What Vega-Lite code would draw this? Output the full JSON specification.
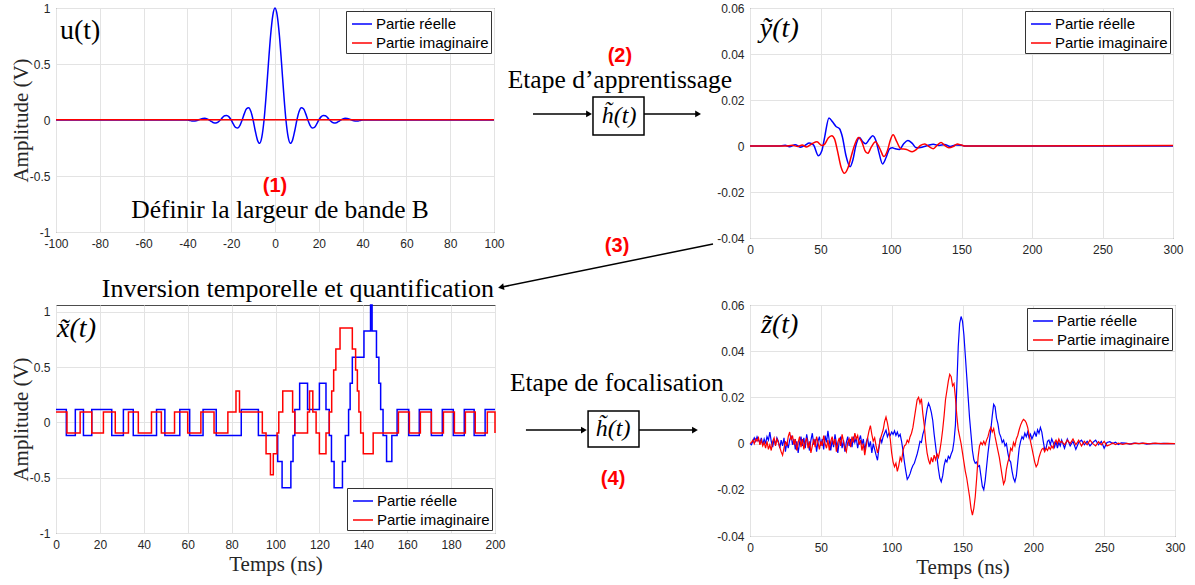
{
"$schema": "https://vega.github.io/schema/vega-lite/v6.json",
"padding": {"left": 9, "top": 1, "right": 5, "bottom": 5},
"background": "white",
"config": {
  "view": {"stroke": "#4d4d4d", "strokeWidth": 1},
  "axis": {"labelFont": "Liberation Sans", "labelFontSize": 12, "labelColor": "#262626", "grid": true, "gridColor": "#e3e3e3", "ticks": false, "domain": false, "labelPadding": 6, "labelFlush": false, "labelOverlap": false, "labelBound": false, "titleFont": "Liberation Serif", "titleFontSize": 21, "titleFontWeight": "normal", "titleColor": "#262626"},
  "axisX": {"titlePadding": 3},
  "axisY": {"titlePadding": -2},
  "legend": {"labelFont": "Liberation Sans", "labelFontSize": 15, "labelColor": "#000000", "symbolType": "stroke", "symbolStrokeWidth": 1.5, "symbolSize": 400, "symbolOffset": 3, "fillColor": "#ffffff", "strokeColor": "#333333", "padding": 2, "rowPadding": -1.5, "labelOffset": 3, "offset": 3, "labelLimit": 0}
},
"datasets": {
  "u": [
    {"t": -100, "v": 0, "p": "Partie réelle"}, {"t": -42, "v": 0, "p": "Partie réelle"}, {"t": -40, "v": 0, "p": "Partie réelle"}, {"t": -39, "v": -0.004, "p": "Partie réelle"}, {"t": -38, "v": -0.008, "p": "Partie réelle"}, {"t": -37, "v": -0.009, "p": "Partie réelle"}, {"t": -36, "v": -0.006, "p": "Partie réelle"}, {"t": -35, "v": 0, "p": "Partie réelle"}, {"t": -34, "v": 0.008, "p": "Partie réelle"}, {"t": -33, "v": 0.014, "p": "Partie réelle"}, {"t": -32, "v": 0.015, "p": "Partie réelle"}, {"t": -31, "v": 0.01, "p": "Partie réelle"}, {"t": -30, "v": 0, "p": "Partie réelle"}, {"t": -29, "v": -0.013, "p": "Partie réelle"}, {"t": -28, "v": -0.024, "p": "Partie réelle"}, {"t": -27, "v": -0.026, "p": "Partie réelle"}, {"t": -26, "v": -0.018, "p": "Partie réelle"}, {"t": -25, "v": 0, "p": "Partie réelle"}, {"t": -24, "v": 0.021, "p": "Partie réelle"}, {"t": -23, "v": 0.038, "p": "Partie réelle"}, {"t": -22, "v": 0.041, "p": "Partie réelle"}, {"t": -21, "v": 0.028, "p": "Partie réelle"}, {"t": -20, "v": 0, "p": "Partie réelle"}, {"t": -19, "v": -0.037, "p": "Partie réelle"}, {"t": -18, "v": -0.066, "p": "Partie réelle"}, {"t": -17, "v": -0.072, "p": "Partie réelle"}, {"t": -16, "v": -0.048, "p": "Partie réelle"}, {"t": -15, "v": 0, "p": "Partie réelle"}, {"t": -14, "v": 0.057, "p": "Partie réelle"}, {"t": -13, "v": 0.1, "p": "Partie réelle"}, {"t": -12, "v": 0.11, "p": "Partie réelle"}, {"t": -11, "v": 0.075, "p": "Partie réelle"}, {"t": -10, "v": 0, "p": "Partie réelle"}, {"t": -9, "v": -0.098, "p": "Partie réelle"}, {"t": -8, "v": -0.18, "p": "Partie réelle"}, {"t": -7, "v": -0.208, "p": "Partie réelle"}, {"t": -6, "v": -0.151, "p": "Partie réelle"}, {"t": -5, "v": 0, "p": "Partie réelle"}, {"t": -4, "v": 0.233, "p": "Partie réelle"}, {"t": -3, "v": 0.504, "p": "Partie réelle"}, {"t": -2, "v": 0.757, "p": "Partie réelle"}, {"t": -1, "v": 0.935, "p": "Partie réelle"}, {"t": 0, "v": 1, "p": "Partie réelle"}, {"t": 1, "v": 0.935, "p": "Partie réelle"}, {"t": 2, "v": 0.757, "p": "Partie réelle"}, {"t": 3, "v": 0.504, "p": "Partie réelle"}, {"t": 4, "v": 0.233, "p": "Partie réelle"}, {"t": 5, "v": 0, "p": "Partie réelle"}, {"t": 6, "v": -0.151, "p": "Partie réelle"}, {"t": 7, "v": -0.208, "p": "Partie réelle"}, {"t": 8, "v": -0.18, "p": "Partie réelle"}, {"t": 9, "v": -0.098, "p": "Partie réelle"}, {"t": 10, "v": 0, "p": "Partie réelle"}, {"t": 11, "v": 0.075, "p": "Partie réelle"}, {"t": 12, "v": 0.11, "p": "Partie réelle"}, {"t": 13, "v": 0.1, "p": "Partie réelle"}, {"t": 14, "v": 0.057, "p": "Partie réelle"}, {"t": 15, "v": 0, "p": "Partie réelle"}, {"t": 16, "v": -0.048, "p": "Partie réelle"}, {"t": 17, "v": -0.072, "p": "Partie réelle"}, {"t": 18, "v": -0.066, "p": "Partie réelle"}, {"t": 19, "v": -0.037, "p": "Partie réelle"}, {"t": 20, "v": 0, "p": "Partie réelle"}, {"t": 21, "v": 0.028, "p": "Partie réelle"}, {"t": 22, "v": 0.041, "p": "Partie réelle"}, {"t": 23, "v": 0.038, "p": "Partie réelle"}, {"t": 24, "v": 0.021, "p": "Partie réelle"}, {"t": 25, "v": 0, "p": "Partie réelle"}, {"t": 26, "v": -0.018, "p": "Partie réelle"}, {"t": 27, "v": -0.026, "p": "Partie réelle"}, {"t": 28, "v": -0.024, "p": "Partie réelle"}, {"t": 29, "v": -0.013, "p": "Partie réelle"}, {"t": 30, "v": 0, "p": "Partie réelle"}, {"t": 31, "v": 0.01, "p": "Partie réelle"}, {"t": 32, "v": 0.015, "p": "Partie réelle"}, {"t": 33, "v": 0.014, "p": "Partie réelle"}, {"t": 34, "v": 0.008, "p": "Partie réelle"}, {"t": 35, "v": 0, "p": "Partie réelle"}, {"t": 36, "v": -0.006, "p": "Partie réelle"}, {"t": 37, "v": -0.009, "p": "Partie réelle"}, {"t": 38, "v": -0.008, "p": "Partie réelle"}, {"t": 39, "v": -0.004, "p": "Partie réelle"}, {"t": 40, "v": 0, "p": "Partie réelle"}, {"t": 42, "v": 0, "p": "Partie réelle"}, {"t": 100, "v": 0, "p": "Partie réelle"},
    {"t": -100, "v": 0.002, "p": "Partie imaginaire"}, {"t": 100, "v": 0.002, "p": "Partie imaginaire"}
  ],
  "yt": [
    {"t": 0, "v": 0, "p": "Partie réelle"}, {"t": 20, "v": 0, "p": "Partie réelle"}, {"t": 25, "v": 0.0003, "p": "Partie réelle"}, {"t": 28, "v": -0.0003, "p": "Partie réelle"}, {"t": 32, "v": 0.0005, "p": "Partie réelle"}, {"t": 36, "v": -0.0005, "p": "Partie réelle"}, {"t": 39, "v": 0.0003, "p": "Partie réelle"}, {"t": 42, "v": 0.0013, "p": "Partie réelle"}, {"t": 45, "v": 0.0005, "p": "Partie réelle"}, {"t": 48.5, "v": -0.0042, "p": "Partie réelle"}, {"t": 51, "v": -0.002, "p": "Partie réelle"}, {"t": 53, "v": 0.004, "p": "Partie réelle"}, {"t": 56, "v": 0.0122, "p": "Partie réelle"}, {"t": 58.5, "v": 0.0105, "p": "Partie réelle"}, {"t": 61, "v": 0.0085, "p": "Partie réelle"}, {"t": 63.5, "v": 0.0075, "p": "Partie réelle"}, {"t": 65.5, "v": 0.004, "p": "Partie réelle"}, {"t": 68, "v": -0.004, "p": "Partie réelle"}, {"t": 71, "v": -0.009, "p": "Partie réelle"}, {"t": 73, "v": -0.006, "p": "Partie réelle"}, {"t": 75, "v": 0, "p": "Partie réelle"}, {"t": 77.7, "v": 0.0037, "p": "Partie réelle"}, {"t": 80, "v": 0.0018, "p": "Partie réelle"}, {"t": 82, "v": 0.001, "p": "Partie réelle"}, {"t": 84.5, "v": 0.0028, "p": "Partie réelle"}, {"t": 87, "v": 0.0045, "p": "Partie réelle"}, {"t": 89.5, "v": 0.002, "p": "Partie réelle"}, {"t": 91.5, "v": -0.003, "p": "Partie réelle"}, {"t": 94, "v": -0.0078, "p": "Partie réelle"}, {"t": 96.5, "v": -0.005, "p": "Partie réelle"}, {"t": 99, "v": -0.0012, "p": "Partie réelle"}, {"t": 101, "v": -0.0008, "p": "Partie réelle"}, {"t": 103, "v": -0.0012, "p": "Partie réelle"}, {"t": 106, "v": -0.0015, "p": "Partie réelle"}, {"t": 109, "v": 0.001, "p": "Partie réelle"}, {"t": 112, "v": 0.0024, "p": "Partie réelle"}, {"t": 115, "v": 0.0012, "p": "Partie réelle"}, {"t": 118, "v": -0.0008, "p": "Partie réelle"}, {"t": 122, "v": -0.0005, "p": "Partie réelle"}, {"t": 126, "v": 0.0002, "p": "Partie réelle"}, {"t": 130, "v": 0.0008, "p": "Partie réelle"}, {"t": 134, "v": 0.0002, "p": "Partie réelle"}, {"t": 138, "v": 0.0006, "p": "Partie réelle"}, {"t": 142, "v": -0.0002, "p": "Partie réelle"}, {"t": 146, "v": 0.0004, "p": "Partie réelle"}, {"t": 150, "v": 0.0003, "p": "Partie réelle"}, {"t": 153, "v": 0, "p": "Partie réelle"}, {"t": 300, "v": 0, "p": "Partie réelle"},
    {"t": 0, "v": 0, "p": "Partie imaginaire"}, {"t": 25, "v": 0, "p": "Partie imaginaire"}, {"t": 30, "v": 0.0003, "p": "Partie imaginaire"}, {"t": 34, "v": -0.0002, "p": "Partie imaginaire"}, {"t": 37, "v": 0.0004, "p": "Partie imaginaire"}, {"t": 40, "v": -0.0004, "p": "Partie imaginaire"}, {"t": 44, "v": 0.001, "p": "Partie imaginaire"}, {"t": 47.5, "v": 0.0018, "p": "Partie imaginaire"}, {"t": 51, "v": 0.0002, "p": "Partie imaginaire"}, {"t": 53, "v": 0.0008, "p": "Partie imaginaire"}, {"t": 55.5, "v": 0.0035, "p": "Partie imaginaire"}, {"t": 58, "v": 0.0045, "p": "Partie imaginaire"}, {"t": 60, "v": 0.003, "p": "Partie imaginaire"}, {"t": 62, "v": -0.002, "p": "Partie imaginaire"}, {"t": 64.5, "v": -0.009, "p": "Partie imaginaire"}, {"t": 67, "v": -0.0119, "p": "Partie imaginaire"}, {"t": 69.5, "v": -0.0095, "p": "Partie imaginaire"}, {"t": 72, "v": -0.004, "p": "Partie imaginaire"}, {"t": 74.5, "v": 0.001, "p": "Partie imaginaire"}, {"t": 77, "v": 0.0037, "p": "Partie imaginaire"}, {"t": 79.5, "v": 0.0015, "p": "Partie imaginaire"}, {"t": 81.5, "v": -0.002, "p": "Partie imaginaire"}, {"t": 83.5, "v": -0.0032, "p": "Partie imaginaire"}, {"t": 86, "v": -0.0005, "p": "Partie imaginaire"}, {"t": 89, "v": 0.0019, "p": "Partie imaginaire"}, {"t": 92, "v": -0.001, "p": "Partie imaginaire"}, {"t": 95, "v": -0.0046, "p": "Partie imaginaire"}, {"t": 97.5, "v": -0.002, "p": "Partie imaginaire"}, {"t": 99.5, "v": 0.0025, "p": "Partie imaginaire"}, {"t": 101.5, "v": 0.0049, "p": "Partie imaginaire"}, {"t": 104, "v": 0.002, "p": "Partie imaginaire"}, {"t": 107, "v": -0.0012, "p": "Partie imaginaire"}, {"t": 111, "v": -0.0015, "p": "Partie imaginaire"}, {"t": 115, "v": -0.0025, "p": "Partie imaginaire"}, {"t": 118, "v": -0.0015, "p": "Partie imaginaire"}, {"t": 121, "v": 0.0003, "p": "Partie imaginaire"}, {"t": 124, "v": 0.0009, "p": "Partie imaginaire"}, {"t": 127, "v": -0.0003, "p": "Partie imaginaire"}, {"t": 130, "v": -0.0012, "p": "Partie imaginaire"}, {"t": 133, "v": 0.0005, "p": "Partie imaginaire"}, {"t": 135.5, "v": 0.0015, "p": "Partie imaginaire"}, {"t": 138, "v": 0.0003, "p": "Partie imaginaire"}, {"t": 141, "v": -0.0008, "p": "Partie imaginaire"}, {"t": 144, "v": -0.0003, "p": "Partie imaginaire"}, {"t": 147, "v": 0.0009, "p": "Partie imaginaire"}, {"t": 150, "v": 0.0004, "p": "Partie imaginaire"}, {"t": 153, "v": 0, "p": "Partie imaginaire"}, {"t": 300, "v": 0.0002, "p": "Partie imaginaire"}
  ],
  "xt": [
    {"t": 0, "v": 0.118, "p": "Partie réelle"}, {"t": 4.7, "v": -0.118, "p": "Partie réelle"}, {"t": 8.8, "v": 0.118, "p": "Partie réelle"}, {"t": 12.5, "v": -0.118, "p": "Partie réelle"}, {"t": 16.3, "v": 0.118, "p": "Partie réelle"}, {"t": 25.4, "v": -0.118, "p": "Partie réelle"}, {"t": 30.7, "v": 0.118, "p": "Partie réelle"}, {"t": 35.2, "v": -0.118, "p": "Partie réelle"}, {"t": 45.8, "v": 0.118, "p": "Partie réelle"}, {"t": 49.6, "v": -0.118, "p": "Partie réelle"}, {"t": 56.4, "v": 0.118, "p": "Partie réelle"}, {"t": 60.9, "v": -0.118, "p": "Partie réelle"}, {"t": 67, "v": 0.118, "p": "Partie réelle"}, {"t": 73, "v": -0.118, "p": "Partie réelle"}, {"t": 84.4, "v": 0.118, "p": "Partie réelle"}, {"t": 92.2, "v": -0.118, "p": "Partie réelle"}, {"t": 101, "v": -0.354, "p": "Partie réelle"}, {"t": 103, "v": -0.59, "p": "Partie réelle"}, {"t": 107, "v": -0.354, "p": "Partie réelle"}, {"t": 108, "v": -0.118, "p": "Partie réelle"}, {"t": 108.8, "v": 0.118, "p": "Partie réelle"}, {"t": 111, "v": 0.354, "p": "Partie réelle"}, {"t": 114.6, "v": 0.118, "p": "Partie réelle"}, {"t": 120, "v": 0.354, "p": "Partie réelle"}, {"t": 123, "v": 0.118, "p": "Partie réelle"}, {"t": 124.5, "v": -0.118, "p": "Partie réelle"}, {"t": 125.5, "v": -0.354, "p": "Partie réelle"}, {"t": 126.7, "v": -0.59, "p": "Partie réelle"}, {"t": 130.5, "v": -0.354, "p": "Partie réelle"}, {"t": 131.8, "v": -0.118, "p": "Partie réelle"}, {"t": 133.3, "v": 0.118, "p": "Partie réelle"}, {"t": 134, "v": 0.354, "p": "Partie réelle"}, {"t": 135, "v": 0.59, "p": "Partie réelle"}, {"t": 140.3, "v": 0.826, "p": "Partie réelle"}, {"t": 143.3, "v": 1.062, "p": "Partie réelle"}, {"t": 144, "v": 0.826, "p": "Partie réelle"}, {"t": 146, "v": 0.59, "p": "Partie réelle"}, {"t": 147.1, "v": 0.354, "p": "Partie réelle"}, {"t": 147.9, "v": 0.118, "p": "Partie réelle"}, {"t": 149, "v": -0.118, "p": "Partie réelle"}, {"t": 150.6, "v": -0.354, "p": "Partie réelle"}, {"t": 153, "v": -0.118, "p": "Partie réelle"}, {"t": 155.4, "v": 0.118, "p": "Partie réelle"}, {"t": 160.7, "v": -0.118, "p": "Partie réelle"}, {"t": 165.5, "v": 0.118, "p": "Partie réelle"}, {"t": 171, "v": -0.118, "p": "Partie réelle"}, {"t": 176, "v": 0.118, "p": "Partie réelle"}, {"t": 181, "v": -0.118, "p": "Partie réelle"}, {"t": 186, "v": 0.118, "p": "Partie réelle"}, {"t": 190.5, "v": -0.118, "p": "Partie réelle"}, {"t": 195.5, "v": 0.118, "p": "Partie réelle"}, {"t": 200, "v": 0.118, "p": "Partie réelle"},
    {"t": 0, "v": 0.095, "p": "Partie imaginaire"}, {"t": 5, "v": -0.095, "p": "Partie imaginaire"}, {"t": 11, "v": 0.095, "p": "Partie imaginaire"}, {"t": 16.3, "v": -0.095, "p": "Partie imaginaire"}, {"t": 21.6, "v": 0.095, "p": "Partie imaginaire"}, {"t": 27, "v": -0.095, "p": "Partie imaginaire"}, {"t": 33, "v": 0.095, "p": "Partie imaginaire"}, {"t": 37.5, "v": -0.095, "p": "Partie imaginaire"}, {"t": 43.5, "v": 0.095, "p": "Partie imaginaire"}, {"t": 48, "v": -0.095, "p": "Partie imaginaire"}, {"t": 54, "v": 0.095, "p": "Partie imaginaire"}, {"t": 60, "v": -0.095, "p": "Partie imaginaire"}, {"t": 66, "v": 0.095, "p": "Partie imaginaire"}, {"t": 72, "v": -0.095, "p": "Partie imaginaire"}, {"t": 78.3, "v": 0.095, "p": "Partie imaginaire"}, {"t": 82, "v": 0.284, "p": "Partie imaginaire"}, {"t": 83.6, "v": 0.095, "p": "Partie imaginaire"}, {"t": 94, "v": -0.095, "p": "Partie imaginaire"}, {"t": 95.7, "v": -0.284, "p": "Partie imaginaire"}, {"t": 97.7, "v": -0.474, "p": "Partie imaginaire"}, {"t": 99, "v": -0.284, "p": "Partie imaginaire"}, {"t": 100.7, "v": -0.095, "p": "Partie imaginaire"}, {"t": 101.5, "v": 0.095, "p": "Partie imaginaire"}, {"t": 103.3, "v": 0.284, "p": "Partie imaginaire"}, {"t": 107.8, "v": 0.095, "p": "Partie imaginaire"}, {"t": 108.8, "v": -0.095, "p": "Partie imaginaire"}, {"t": 114.6, "v": 0.095, "p": "Partie imaginaire"}, {"t": 115.5, "v": 0.284, "p": "Partie imaginaire"}, {"t": 117, "v": 0.095, "p": "Partie imaginaire"}, {"t": 118.5, "v": -0.095, "p": "Partie imaginaire"}, {"t": 120, "v": -0.284, "p": "Partie imaginaire"}, {"t": 123, "v": -0.095, "p": "Partie imaginaire"}, {"t": 124.5, "v": 0.095, "p": "Partie imaginaire"}, {"t": 125.6, "v": 0.284, "p": "Partie imaginaire"}, {"t": 126.5, "v": 0.474, "p": "Partie imaginaire"}, {"t": 127.5, "v": 0.663, "p": "Partie imaginaire"}, {"t": 129.4, "v": 0.853, "p": "Partie imaginaire"}, {"t": 135, "v": 0.663, "p": "Partie imaginaire"}, {"t": 136.5, "v": 0.474, "p": "Partie imaginaire"}, {"t": 137.3, "v": 0.284, "p": "Partie imaginaire"}, {"t": 138, "v": 0.095, "p": "Partie imaginaire"}, {"t": 138.8, "v": -0.095, "p": "Partie imaginaire"}, {"t": 140, "v": -0.284, "p": "Partie imaginaire"}, {"t": 144.5, "v": -0.095, "p": "Partie imaginaire"}, {"t": 156, "v": 0.095, "p": "Partie imaginaire"}, {"t": 161, "v": -0.095, "p": "Partie imaginaire"}, {"t": 166, "v": 0.095, "p": "Partie imaginaire"}, {"t": 171, "v": -0.095, "p": "Partie imaginaire"}, {"t": 176.5, "v": 0.095, "p": "Partie imaginaire"}, {"t": 181.5, "v": -0.095, "p": "Partie imaginaire"}, {"t": 186.5, "v": 0.095, "p": "Partie imaginaire"}, {"t": 191, "v": -0.095, "p": "Partie imaginaire"}, {"t": 196.5, "v": 0.095, "p": "Partie imaginaire"}, {"t": 200, "v": -0.095, "p": "Partie imaginaire"}
  ],
  "zb": [
    [0,0],[1,-0.0005],[2,0.001],[3,0.0025],[4,0.001],[5,0.003],[6,0.0015],[7,0.0005],[8,0.0025],[9,-0.0005],[10,0.002],[11,0],[12,0.003],[13,0.0015],[14,0.005],[15,0.001],[16,-0.0015],[17,0.002],[18,-0.0005],[19,0.0025],[20,0.001],[21,-0.002],[22,0.0015],[23,-0.001],[24,0.0025],[25,-0.0035],[26,0.0005],[27,-0.002],[28,0.0015],[29,0.0035],[30,-0.0005],[31,0.002],[32,-0.0025],[33,0.001],[34,-0.004],[35,0.0005],[36,0.003],[37,-0.001],[38,0.0025],[39,-0.002],[40,0.004],[41,0.0005],[42,-0.003],[43,0.0015],[44,0.0045],[45,-0.0005],[46,0.002],[47,-0.0035],[48,0.001],[49,0.003],[50,-0.001],[51,0.002],[52,-0.0025],[53,0.0035],[54,0.0005],[55,0.0055],[56,0.001],[57,-0.003],[58,0.0015],[59,-0.0015],[60,0.004],[61,0],[62,-0.004],[63,0.001],[64,0.003],[65,-0.002],[66,0.0015],[67,-0.0035],[68,0.0005],[69,0.003],[70,-0.001],[71,0.002],[72,-0.0015],[73,0.003],[74,0.0005],[75,0.0025],[76,-0.002],[77,0.0015],[78,0.0035],[79,-0.0005],[80,0.002],[81,-0.003],[82,0.0005],[83,0.0025],[84,-0.0015],[85,0.001],[86,-0.004],[87,0],[88,-0.0025],[89,-0.005],[90,-0.0072],[91,-0.002],[92,0.0025],[93,0.0005],[94,0.003],[95,0.0045],[96,0.0058],[97,0.003],[98,0.0045],[99,0.0035],[100,0.005],
    [101,0.004],[102,0.0055],[103,0.0035],[104,0.005],[105,0.003],[106,0.004],[107,0.001],[108,-0.003],[109,-0.008],[110,-0.012],[111,-0.0155],[112,-0.0145],[113,-0.013],[114,-0.011],[115,-0.0095],[116,-0.0085],[117,-0.0065],[118,-0.0045],[119,-0.002],[120,0.001],[121,0.0005],[122,0.004],[123,0.006],[124,0.011],[125,0.015],[126,0.0175],[127,0.016],[128,0.0135],[129,0.01],[130,0.004],[131,-0.001],[132,-0.006],[133,-0.011],[134,-0.015],[135,-0.0165],[136,-0.014],[137,-0.0095],[138,-0.007],[139,-0.008],[140,-0.0055],[141,-0.0065],[142,-0.0045],[143,-0.003],[144,0.001],[145,0.008],[146,0.025],[147,0.042],[148,0.052],[149,0.055],[150,0.053],[151,0.047],[152,0.038],[153,0.029],[154,0.02],[155,0.011],[156,0.004],[157,-0.003],[158,-0.007],[159,-0.0085],[160,-0.008],[161,-0.01],[162,-0.0095],[163,-0.014],[164,-0.0185],[165,-0.02],[166,-0.016],[167,-0.01],[168,-0.004],[169,0.001],[170,0.006],[171,0.012],[172,0.017],[173,0.016],[174,0.011],[175,0.0085],[176,0.0045],[177,0.003],[178,0.0005],[179,0.0015],[180,-0.001],[181,0],[182,-0.004],[183,-0.007],[184,-0.008],[185,-0.012],[186,-0.015],[187,-0.0165],[188,-0.014],[189,-0.008],[190,-0.002],[191,0.001],[192,0.003],[193,0.002],[194,0.0045],[195,0.003],[196,0.005],[197,0.0025],[198,0.004],[199,0.002],[200,0.0035],[201,0.005],[202,0.003],[203,0.006],[204,0.0045],[205,0.007],[206,0.005],[207,0.001],[208,-0.0025],[209,-0.002],[210,0.001],[211,0.0015],[212,-0.0005],[213,0.002],[214,0.0005],[215,-0.0015],[216,0.001],[217,-0.002],[218,0.0005],[219,-0.001],[220,0.0015],[222,-0.002],[224,0.002],[226,-0.001],[228,0.001],[230,-0.0025],[232,0.0005],[234,0.0015],[236,-0.0005],[238,0.001],[240,-0.001],[242,0.0005],[244,0.0015],[246,-0.0005],[248,0.001],[250,-0.002],[252,0.0005],[254,0.0008],[256,0],[258,0.0006],[260,-0.0004],[262,0.0003],[265,0.0002],[268,-0.0002],[271,0.0002],[274,0],[277,0.0002],[280,-0.0002],[284,0.0001],[288,0],[292,0.0001],[296,0],[300,0]
  ],
  "zr": [
    [0,0],[1,0.0005],[2,0.0015],[3,0],[4,0.002],[5,0.001],[6,0.0025],[7,-0.0005],[8,0.0015],[9,-0.001],[10,0.0005],[11,-0.002],[12,0.001],[13,-0.0025],[14,-0.0005],[15,-0.003],[16,0.001],[17,0.0025],[18,-0.001],[19,0.002],[20,0.0005],[21,-0.0015],[22,-0.0035],[23,-0.005],[24,-0.002],[25,0.001],[26,-0.001],[27,0.003],[28,0.005],[29,0.0015],[30,0.0035],[31,-0.0005],[32,0.002],[33,-0.003],[34,0.0005],[35,0.003],[36,-0.0015],[37,0.002],[38,-0.0025],[39,0.0005],[40,0.0025],[41,-0.002],[42,0.001],[43,-0.004],[44,-0.001],[45,0.002],[46,-0.0015],[47,0.003],[48,0.0005],[49,-0.0025],[50,0.001],[51,-0.001],[52,0.0035],[53,0],[54,-0.002],[55,0.0015],[56,-0.003],[57,0.001],[58,0.003],[59,-0.0005],[60,0.002],[61,-0.0035],[62,0.0005],[63,0.0025],[64,-0.001],[65,0.004],[66,0.001],[67,-0.002],[68,-0.0035],[69,0.0005],[70,0.002],[71,-0.0015],[72,0.003],[73,0.0005],[74,0.0045],[75,0.002],[76,0.0035],[77,-0.0005],[78,0.0015],[79,-0.003],[80,0],[81,-0.005],[82,-0.001],[83,0.0025],[84,0.0055],[85,0.0078],[86,0.004],[87,0.001],[88,0.0025],[89,-0.001],[90,-0.004],[91,-0.0015],[92,0.002],[93,0.004],[94,0.006],[95,0.0095],[96,0.0115],[97,0.009],[98,0.0055],[99,0.002],[100,-0.004],
    [101,-0.008],[102,-0.01],[103,-0.0085],[104,-0.012],[105,-0.0095],[106,-0.006],[107,-0.0075],[108,-0.003],[109,-0.001],[110,-0.0005],[111,0.0015],[112,0.0005],[113,0.003],[114,0.0045],[115,0.007],[116,0.011],[117,0.015],[118,0.019],[119,0.02],[120,0.0175],[121,0.0195],[122,0.013],[123,0.008],[124,0.001],[125,-0.004],[126,-0.007],[127,-0.009],[128,-0.006],[129,-0.008],[130,-0.005],[131,-0.007],[132,-0.0045],[133,-0.006],[134,-0.003],[135,0.001],[136,0.006],[137,0.012],[138,0.019],[139,0.023],[140,0.027],[141,0.03],[142,0.029],[143,0.025],[144,0.026],[145,0.02],[146,0.012],[147,0.006],[148,0.003],[149,0],[150,-0.004],[151,-0.008],[152,-0.012],[153,-0.015],[154,-0.019],[155,-0.023],[156,-0.028],[157,-0.031],[158,-0.028],[159,-0.023],[160,-0.015],[161,-0.006],[162,-0.001],[163,0.0005],[164,-0.0005],[165,0.001],[166,-0.0005],[167,0.0015],[168,0.003],[169,0.0055],[170,0.007],[171,0.005],[172,0.0065],[173,0.003],[174,0],[175,-0.003],[176,-0.006],[177,-0.01],[178,-0.014],[179,-0.0175],[180,-0.016],[181,-0.011],[182,-0.008],[183,-0.006],[184,-0.002],[185,-0.003],[186,0.0005],[187,-0.001],[188,0.002],[189,0.0035],[190,0.006],[191,0.008],[192,0.0095],[193,0.0105],[194,0.01],[195,0.009],[196,0.007],[197,0.004],[198,0.001],[199,-0.002],[200,-0.005],[201,-0.008],[202,-0.01],[203,-0.009],[204,-0.006],[205,-0.004],[206,-0.0025],[207,-0.002],[208,-0.0035],[209,-0.002],[210,-0.003],[211,-0.0015],[212,-0.0025],[213,-0.001],[214,-0.002],[215,0.0005],[216,0.0015],[217,0],[218,0.002],[219,0.0005],[220,0.001],[222,-0.0005],[224,0.0015],[226,0],[228,0.002],[230,-0.0005],[232,0.0015],[234,-0.001],[236,0.001],[238,-0.0005],[240,0.0015],[242,0],[244,-0.001],[246,0.0008],[248,-0.0005],[250,0.001],[252,-0.001],[254,-0.0005],[256,0.0003],[258,-0.0004],[260,0.0002],[263,-0.0003],[266,0.0001],[269,-0.0002],[272,0.0002],[275,0],[278,0.0002],[282,-0.0001],[286,0.0002],[290,0],[295,0.0001],[300,0]
  ]
},
"columns": 2,
"spacing": {"row": 67, "column": 255},
"bounds": "flush",
"resolve": {"scale": {"color": "independent"}, "legend": {"color": "independent"}},
"concat": [
      {
        "width": 438, "height": 224,
        "encoding": {
          "x": {"field": "t", "type": "quantitative", "scale": {"domain": [-100, 100], "nice": false, "zero": false}, "axis": {"values": [-100, -80, -60, -40, -20, 0, 20, 40, 60, 80, 100], "title": null, "labelExpr": "datum.value + ''"}},
          "y": {"field": "v", "type": "quantitative", "scale": {"domain": [-1, 1], "nice": false, "zero": false}, "axis": {"values": [-1, -0.5, 0, 0.5, 1], "title": "Amplitude (V)", "labelExpr": "datum.value + ''"}}
        },
        "layer": [
          {"data": {"name": "u"}, "mark": {"type": "line", "strokeWidth": 1.5, "interpolate": "monotone"},
           "encoding": {"color": {"field": "p", "type": "nominal", "scale": {"domain": ["Partie réelle", "Partie imaginaire"], "range": ["#0000ff", "#ff0000"]}, "legend": {"orient": "top-right", "title": null}}}},
          {"data": {"values": [{"t": -98.2, "v": 0.795, "label": "u(t)"}]}, "mark": {"type": "text", "font": "Liberation Serif", "fontSize": 28, "align": "left", "baseline": "middle", "color": "#000000"}, "encoding": {"text": {"field": "label"}}},
          {"data": {"values": [{"t": 2.3, "v": -0.8, "label": "Définir la largeur de bande B"}, {"t": 157.5, "v": 0.36, "label": "Etape d’apprentissage"}]}, "mark": {"type": "text", "font": "Liberation Serif", "fontSize": 25.5, "align": "center", "baseline": "middle", "color": "#000000"}, "encoding": {"text": {"field": "label"}}},
          {"data": {"values": [{"t": 0, "v": -0.59, "label": "(1)"}, {"t": 157.5, "v": 0.57, "label": "(2)"}, {"t": 156.2, "v": -1.125, "label": "(3)"}]}, "mark": {"type": "text", "font": "Liberation Sans", "fontSize": 20, "fontWeight": "bold", "align": "center", "baseline": "middle", "color": "#ff0000"}, "encoding": {"text": {"field": "label"}}},
          {"data": {"values": [{"t": 117.8, "v": 0.054, "t2": 143.8, "v2": 0.054}, {"t": 168.5, "v": 0.054, "t2": 193.2, "v2": 0.054}, {"t": 200.0, "v": -1.107, "t2": 103.2, "v2": -1.493}]}, "mark": {"type": "rule", "color": "#000000", "strokeWidth": 1.5}, "encoding": {"x2": {"field": "t2"}, "y2": {"field": "v2"}}},
          {"data": {"values": [{"t": 145.2, "t2": 168.5, "v": 0.205, "v2": -0.134}]}, "mark": {"type": "rect", "fill": "#ffffff", "stroke": "#000000", "strokeWidth": 1.5}, "encoding": {"x2": {"field": "t2"}, "y2": {"field": "v2"}}},
          {"data": {"values": [{"t": 157.1, "v": 0.036, "label": "h̃(t)"}]}, "mark": {"type": "text", "font": "Liberation Serif", "fontStyle": "italic", "fontSize": 24, "align": "center", "baseline": "middle", "color": "#000000"}, "encoding": {"text": {"field": "label"}}},
          {"data": {"values": [{"t": 143.4, "v": 0.054}, {"t": 193.2, "v": 0.054}]}, "mark": {"type": "point", "shape": "triangle-right", "filled": true, "size": 45, "color": "#000000", "opacity": 1}},
          {"data": {"values": [{"t": 103.2, "v": -1.493}]}, "mark": {"type": "point", "shape": "triangle-right", "filled": true, "size": 45, "angle": 168.5, "color": "#000000", "opacity": 1}}
        ]
      },
      {
        "width": 423, "height": 230,
        "encoding": {
          "x": {"field": "t", "type": "quantitative", "scale": {"domain": [0, 300], "nice": false, "zero": false}, "axis": {"values": [0, 50, 100, 150, 200, 250, 300], "title": null, "labelExpr": "datum.value + ''"}},
          "y": {"field": "v", "type": "quantitative", "scale": {"domain": [-0.04, 0.06], "nice": false, "zero": false}, "axis": {"values": [-0.04, -0.02, 0, 0.02, 0.04, 0.06], "title": null, "labelExpr": "datum.value + ''"}}
        },
        "layer": [
          {"data": {"name": "yt"}, "mark": {"type": "line", "strokeWidth": 1.5, "interpolate": "monotone"},
           "encoding": {"color": {"field": "p", "type": "nominal", "scale": {"domain": ["Partie réelle", "Partie imaginaire"], "range": ["#0000ff", "#ff0000"]}, "legend": {"orient": "top-right", "title": null}}}},
          {"data": {"values": [{"t": 7, "v": 0.051, "label": "ỹ(t)"}]}, "mark": {"type": "text", "font": "Liberation Serif", "fontStyle": "italic", "fontSize": 28, "align": "left", "baseline": "middle", "color": "#000000"}, "encoding": {"text": {"field": "label"}}}
        ]
      },
      {
        "width": 439, "height": 228,
        "encoding": {
          "x": {"field": "t", "type": "quantitative", "scale": {"domain": [0, 200], "nice": false, "zero": false}, "axis": {"values": [0, 20, 40, 60, 80, 100, 120, 140, 160, 180, 200], "title": "Temps (ns)", "labelExpr": "datum.value + ''"}},
          "y": {"field": "v", "type": "quantitative", "scale": {"domain": [-1, 1.062], "nice": false, "zero": false}, "axis": {"values": [-1, -0.5, 0, 0.5, 1], "title": "Amplitude (V)", "labelExpr": "datum.value + ''"}}
        },
        "layer": [
          {"data": {"name": "xt"}, "mark": {"type": "line", "strokeWidth": 1.5, "interpolate": "step-after"},
           "encoding": {"color": {"field": "p", "type": "nominal", "scale": {"domain": ["Partie réelle", "Partie imaginaire"], "range": ["#0000ff", "#ff0000"]}, "legend": {"orient": "bottom-right", "title": null}}}},
          {"data": {"values": [{"t": 0.5, "v": 0.845, "label": "x̃(t)"}]}, "mark": {"type": "text", "font": "Liberation Serif", "fontStyle": "italic", "fontSize": 28, "align": "left", "baseline": "middle", "color": "#000000"}, "encoding": {"text": {"field": "label"}}},
          {"data": {"values": [{"t": 199.5, "v": 1.206, "label": "Inversion temporelle et quantification"}]}, "mark": {"type": "text", "font": "Liberation Serif", "fontSize": 26, "align": "right", "baseline": "middle", "color": "#000000"}, "encoding": {"text": {"field": "label"}}},
          {"data": {"values": [{"t": 255.5, "v": 0.36, "label": "Etape de focalisation"}]}, "mark": {"type": "text", "font": "Liberation Serif", "fontSize": 25.5, "align": "center", "baseline": "middle", "color": "#000000"}, "encoding": {"text": {"field": "label"}}},
          {"data": {"values": [{"t": 253.8, "v": -0.512, "label": "(4)"}]}, "mark": {"type": "text", "font": "Liberation Sans", "fontSize": 20, "fontWeight": "bold", "align": "center", "baseline": "middle", "color": "#ff0000"}, "encoding": {"text": {"field": "label"}}},
          {"data": {"values": [{"t": 214.1, "v": -0.069, "t2": 240.5, "v2": -0.069}, {"t": 265.6, "v": -0.069, "t2": 291.1, "v2": -0.069}]}, "mark": {"type": "rule", "color": "#000000", "strokeWidth": 1.5}, "encoding": {"x2": {"field": "t2"}, "y2": {"field": "v2"}}},
          {"data": {"values": [{"t": 242.4, "t2": 265.6, "v": 0.103, "v2": -0.222}]}, "mark": {"type": "rect", "fill": "#ffffff", "stroke": "#000000", "strokeWidth": 1.5}, "encoding": {"x2": {"field": "t2"}, "y2": {"field": "v2"}}},
          {"data": {"values": [{"t": 253.8, "v": -0.06, "label": "h̃(t)"}]}, "mark": {"type": "text", "font": "Liberation Serif", "fontStyle": "italic", "fontSize": 24, "align": "center", "baseline": "middle", "color": "#000000"}, "encoding": {"text": {"field": "label"}}},
          {"data": {"values": [{"t": 240.5, "v": -0.069}, {"t": 291.1, "v": -0.069}]}, "mark": {"type": "point", "shape": "triangle-right", "filled": true, "size": 45, "color": "#000000", "opacity": 1}}
        ]
      },
      {
        "width": 425, "height": 231,
        "encoding": {
          "x": {"field": "t", "type": "quantitative", "scale": {"domain": [0, 300], "nice": false, "zero": false}, "axis": {"values": [0, 50, 100, 150, 200, 250, 300], "title": "Temps (ns)", "labelExpr": "datum.value + ''"}},
          "y": {"field": "v", "type": "quantitative", "scale": {"domain": [-0.04, 0.06], "nice": false, "zero": false}, "axis": {"values": [-0.04, -0.02, 0, 0.02, 0.04, 0.06], "title": null, "labelExpr": "datum.value + ''"}}
        },
        "layer": [
          {"data": {"name": "zb"}, "transform": [{"calculate": "datum[0]", "as": "t"}, {"calculate": "datum[1]", "as": "v"}, {"calculate": "'Partie réelle'", "as": "p"}], "mark": {"type": "line", "strokeWidth": 1.2},
           "encoding": {"color": {"field": "p", "type": "nominal", "scale": {"domain": ["Partie réelle", "Partie imaginaire"], "range": ["#0000ff", "#ff0000"]}, "legend": {"orient": "top-right", "title": null}}}},
          {"data": {"name": "zr"}, "transform": [{"calculate": "datum[0]", "as": "t"}, {"calculate": "datum[1]", "as": "v"}], "mark": {"type": "line", "strokeWidth": 1.2, "color": "#ff0000"}},
          {"data": {"values": [{"t": 7.8, "v": 0.0513, "label": "z̃(t)"}]}, "mark": {"type": "text", "font": "Liberation Serif", "fontStyle": "italic", "fontSize": 28, "align": "left", "baseline": "middle", "color": "#000000"}, "encoding": {"text": {"field": "label"}}}
        ]
      }
]
}
